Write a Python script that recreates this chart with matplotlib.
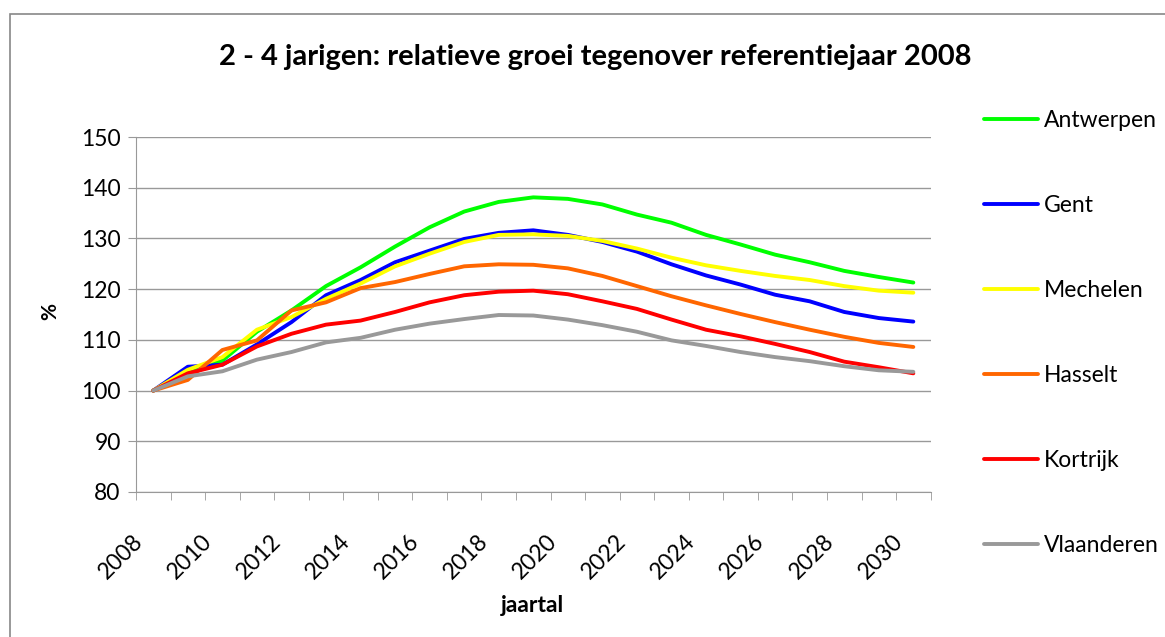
import matplotlib.pyplot as plt
from matplotlib.patches import Rectangle
from matplotlib.transforms import ScaledTranslation
import numpy as np

years = list(range(2008, 2031))
tick_years = [str(y) for y in range(2008, 2031, 2)]

antwerpen = [100, 103.6, 105.9, 111.6, 115.8, 120.6, 124.3, 128.4, 132.2, 135.3, 137.2, 138.1,
             137.8, 136.7, 134.7, 133.1, 130.7, 128.8, 126.8, 125.3, 123.6, 122.4, 121.3]
gent = [100, 104.7, 105.1, 109.1, 113.5, 118.8, 121.8, 125.3, 127.6, 129.9, 131.1, 131.6,
        130.7, 129.3, 127.4, 124.9, 122.7, 120.9, 118.9, 117.6, 115.5, 114.3, 113.6]
mechelen = [100, 104.1, 106.6, 112.0, 114.5, 118.1, 121.1, 124.5, 127.0, 129.3, 130.7, 130.8,
            130.5, 129.5, 128.0, 126.2, 124.7, 123.6, 122.6, 121.8, 120.6, 119.7, 119.3]
hasselt = [100, 102.1, 108.0, 109.9, 115.8, 117.4, 120.2, 121.4, 123.0, 124.5, 124.9, 124.8,
           124.1, 122.6, 120.6, 118.6, 116.8, 115.1, 113.5, 112.0, 110.6, 109.4, 108.6]
kortrijk = [100, 103.4, 105.1, 108.7, 111.2, 113.0, 113.8, 115.5, 117.4, 118.8, 119.5, 119.7,
            119.0, 117.6, 116.1, 114.0, 112.0, 110.7, 109.2, 107.6, 105.7, 104.6, 103.4]
vlaanderen = [100, 102.8, 103.8, 106.1, 107.6, 109.5, 110.4, 112.0, 113.2, 114.1, 114.9, 114.8,
              114.0, 112.9, 111.6, 109.9, 108.8, 107.6, 106.6, 105.8, 104.8, 104.0, 103.7]

names = ["Antwerpen", "Gent", "Mechelen", "Hasselt", "Kortrijk", "Vlaanderen"]
series = [antwerpen, gent, mechelen, hasselt, kortrijk, vlaanderen]
colors = ["#00FF00", "#0000FF", "#FFFF00", "#FF6600", "#FF0000", "#999999"]

plt.rcParams['font.family'] = ['Lato', 'DejaVu Sans']

fig = plt.figure(figsize=(11.65, 6.37), dpi=100)
ax = fig.add_axes([136 / 1165, 1 - 492 / 637, 794.6 / 1165, 355 / 637])

x = np.arange(len(years))
for vals, name, col in zip(series, names, colors):
    ax.plot(x, vals, color=col, lw=2.8, label=name, solid_capstyle='round')

ax.set_xlim(-0.5, len(years) - 0.5)
ax.set_ylim(80, 150)
ax.set_yticks(range(80, 151, 10))
ax.yaxis.grid(True, color='#999999', lw=1.0)
ax.set_axisbelow(True)

# labels on every second year, tick marks on category boundaries
ax.set_xticks(x[::2])
ax.set_xticklabels(tick_years, rotation=45, ha='right', va='center', rotation_mode='anchor')
ax.set_xticks(np.arange(-0.5, len(years)), minor=True)
ax.tick_params(axis='x', which='major', length=0, pad=33, labelsize=16.5)
ax.tick_params(axis='x', which='minor', length=6, color='#999999', direction='out')
ax.tick_params(axis='y', length=6, color='#999999', labelsize=16.5, pad=5)
shift = ScaledTranslation(-0.14, 0, fig.dpi_scale_trans)
for lbl in ax.get_xticklabels():
    lbl.set_transform(lbl.get_transform() + shift)

for s in ['top', 'right']:
    ax.spines[s].set_visible(False)
for s in ['left', 'bottom']:
    ax.spines[s].set_color('#999999')

ax.set_ylabel("%", fontsize=15, fontweight='bold', va='center')
ax.yaxis.set_label_coords((50 - 136) / 794.6, (492 - 312) / 355)
ax.set_xlabel("jaartal", fontsize=16.5, fontweight='bold', va='center')
ax.xaxis.set_label_coords((532 - 136) / 794.6, -(605 - 492) / 355)

fig.suptitle("2 - 4 jarigen: relatieve groei tegenover referentiejaar 2008",
             x=595 / 1165, y=1 - 57 / 637, va='center', fontsize=21, fontweight='bold')

fig.legend(loc='upper left', bbox_to_anchor=(963 / 1165, 1 - 89 / 637), frameon=False,
           fontsize=16.5, handlelength=2.36, handletextpad=0.26, labelspacing=2.8)

# chart border
fig.patches.append(Rectangle((9.5 / 1165, -0.1), 1.2, 1 - 14 / 637 + 0.1,
                             transform=fig.transFigure, fill=False, edgecolor='#888888', lw=1.2))

fig.savefig("out.png", dpi=100)
